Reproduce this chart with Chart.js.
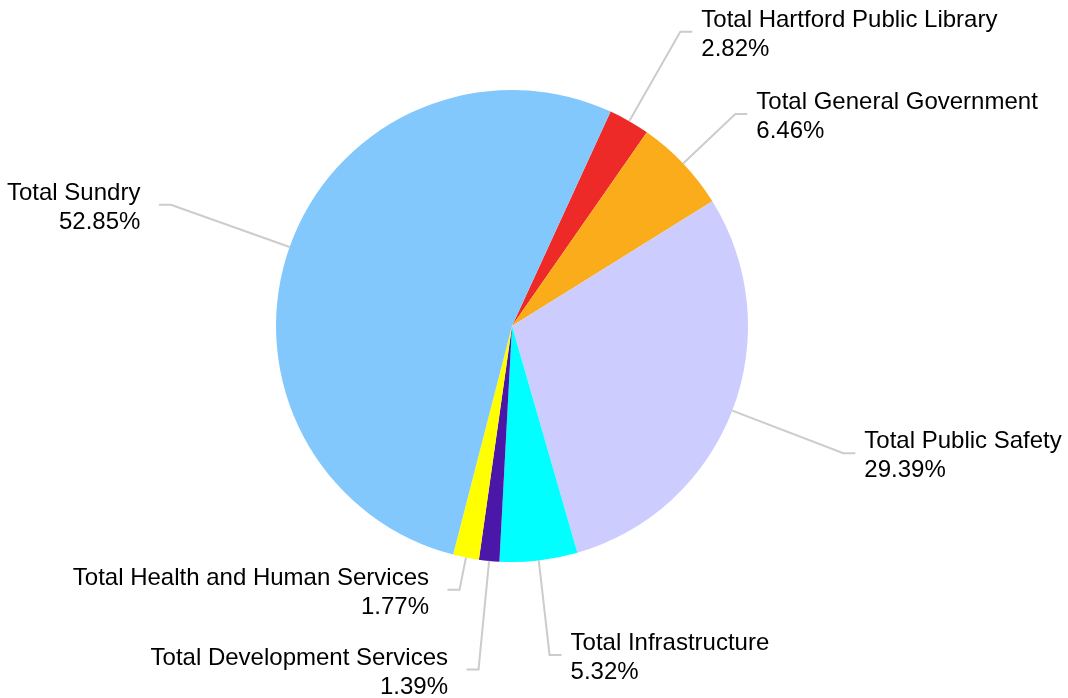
<!DOCTYPE html>
<html>
<head>
<meta charset="utf-8">
<script src="https://cdn.jsdelivr.net/npm/chart.js@4/dist/chart.umd.min.js"></script>
<style>
  html, body { margin: 0; padding: 0; background: #ffffff; }
  #wrap { width: 1068px; height: 698px; }
</style>
</head>
<body>
<div id="wrap"><canvas id="c" width="1068" height="698"></canvas></div>
<script>
const categories = [
  "Total Hartford Public Library",
  "Total General Government",
  "Total Public Safety",
  "Total Infrastructure",
  "Total Development Services",
  "Total Health and Human Services",
  "Total Sundry"
];
const percentValues = [2.82, 6.46, 29.39, 5.32, 1.39, 1.77, 52.85];
const sliceColors = ["#EE2A28", "#FAAC1A", "#CCCCFF", "#00FFFF", "#4A17A8", "#FFFF00", "#82C8FC"];

// label leader-line elbow distance as a multiple of the pie radius (layout only)
const labelRadiusFactors = [1.436, 1.305, 1.504, 1.403, 1.462, 1.14, 1.534];

const outsideLabels = {
  id: 'outsideLabels',
  afterDatasetsDraw(chart) {
    const ctx = chart.ctx;
    const meta = chart.getDatasetMeta(0);
    const ds = chart.data.datasets[0];
    ctx.save();
    meta.data.forEach((arc, i) => {
      const p = arc.getProps(['x', 'y', 'startAngle', 'endAngle', 'outerRadius'], true);
      const mid = (p.startAngle + p.endAngle) / 2;
      const cx = Math.cos(mid), sy = Math.sin(mid);
      const x0 = p.x + p.outerRadius * cx, y0 = p.y + p.outerRadius * sy;
      const R = p.outerRadius * labelRadiusFactors[i];
      const x1 = p.x + R * cx, y1 = p.y + R * sy;
      const dir = cx >= 0 ? 1 : -1;
      const x2 = x1 + dir * 12;
      ctx.strokeStyle = '#cccccc';
      ctx.lineWidth = 2;
      ctx.beginPath();
      ctx.moveTo(x0, y0);
      ctx.lineTo(x1, y1);
      ctx.lineTo(x2, y1);
      ctx.stroke();
      ctx.fillStyle = '#000000';
      ctx.font = '24px "Liberation Sans", Arial, sans-serif';
      ctx.textBaseline = 'alphabetic';
      ctx.textAlign = dir > 0 ? 'left' : 'right';
      const tx = x2 + dir * (dir > 0 ? 9 : 18.5);
      ctx.fillText(chart.data.labels[i], tx, y1 - 4.8);
      ctx.fillText(ds.data[i].toFixed(2) + '%', tx, y1 + 24.2);
    });
    ctx.restore();
  }
};

new Chart(document.getElementById('c'), {
  type: 'pie',
  data: {
    labels: categories,
    datasets: [{
      data: percentValues,
      backgroundColor: sliceColors,
      borderWidth: 0
    }]
  },
  options: {
    responsive: false,
    animation: false,
    rotation: 24.7,
    layout: { padding: { left: 276, right: 320, top: 90, bottom: 136 } },
    plugins: {
      legend: { display: false },
      tooltip: { enabled: false }
    }
  },
  plugins: [outsideLabels]
});
</script>
</body>
</html>
